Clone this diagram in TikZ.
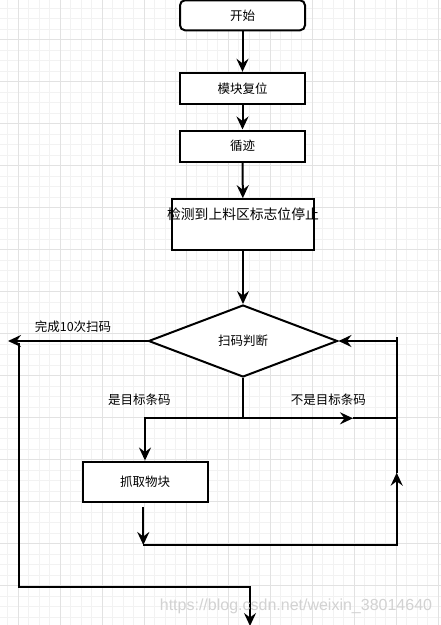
\documentclass[tikz,border=0pt]{standalone}
\usepackage{fontspec}
\newfontfamily\cjk{Noto Sans CJK SC}
\newfontfamily\wmfont{Liberation Sans}
\usetikzlibrary{shapes.geometric,arrows.meta}
\definecolor{gridminor}{HTML}{F2F2F2}
\definecolor{gridmajor}{HTML}{E2E2E2}
\definecolor{wmgray}{HTML}{D2D2D2}
\tikzset{
  boxstyle/.style={draw=black, line width=2pt, fill=white, minimum width=125pt, minimum height=31pt, inner sep=0pt, font=\cjk\fontsize{12.5}{14}\selectfont},
  lbl/.style={inner sep=0pt, font=\cjk\fontsize{12.5}{14}\selectfont},
  conn/.style={line width=2pt, draw=black},
  arr/.style={conn, -{Stealth[length=13pt, width=12pt, inset=4.5pt]}},
}
\begin{document}
\begin{tikzpicture}[x=1pt, y=-1pt]
\useasboundingbox (0,0) rectangle (441,625);
\fill[white] (0,0) rectangle (441,625);
% grid
\foreach \i in {0,...,41} {
  \pgfmathsetmacro\xx{7.8+10.5*\i}
  \draw[gridminor, line width=0.8pt] (\xx,0) -- (\xx,625);
}
\foreach \j in {0,...,59} {
  \pgfmathsetmacro\yy{8+10.5*\j}
  \draw[gridminor, line width=0.8pt] (0,\yy) -- (441,\yy);
}
\foreach \i in {0,...,10} {
  \pgfmathsetmacro\xx{18.3+42*\i}
  \draw[gridmajor, line width=0.8pt] (\xx,0) -- (\xx,625);
}
\foreach \j in {-1,...,14} {
  \pgfmathsetmacro\yy{39.5+42*\j}
  \draw[gridmajor, line width=0.8pt] (0,\yy) -- (441,\yy);
}

% nodes
\node[boxstyle, rounded corners=5pt, minimum height=30pt] (start) at (242.5,15.3) {开始};
\node[boxstyle] (reset) at (242.5,88.3) {模块复位};
\node[boxstyle] (track) at (242.5,146) {循迹};
\node[boxstyle, minimum width=142pt, minimum height=51pt] (detect) at (243,224.7) {};
\node[inner sep=0pt, font=\cjk\fontsize{13.8}{15}\selectfont] (detecttxt) at (243,214) {检测到上料区标志位停止};
\node[draw=black, line width=2pt, fill=white, shape=diamond, minimum width=189pt, minimum height=72pt, inner sep=0pt, font=\cjk\fontsize{12.5}{14}\selectfont] (judge) at (243,341) {扫码判断};
\node[boxstyle, minimum width=125pt, minimum height=40.5pt] (grab) at (145,481.8) {抓取物块};

% labels
\node[lbl] (ldone) at (73,326.7) {完成10次扫码};
\node[lbl] (lyes) at (139.3,400) {是目标条码};
\node[lbl] (lno) at (328.3,400) {不是目标条码};

% coordinates
\coordinate (Lend) at (8,341);
\coordinate (Ltop) at (19,342.5);
\coordinate (Lbot) at (19,586.7);
\coordinate (Bcor) at (250,586.7);
\coordinate (Bend) at (250,626);
\coordinate (J) at (243,418.3);
\coordinate (Jl) at (145,418.3);
\coordinate (Jm) at (353,418.3);
\coordinate (Jr) at (396.7,418.3);
\coordinate (Gtop) at (143.3,507.3);
\coordinate (Gbot) at (143.3,545);
\coordinate (Rbot) at (396.7,545);
\coordinate (Rmid) at (396.7,472.7);
\coordinate (Rtop) at (396.7,337);
\coordinate (Rarr) at (396.7,341);

% connectors
\draw[arr] (start) -- (reset);
\draw[arr] (reset) -- (track);
\draw[arr] (track) -- (detect);
\draw[arr] (detect.south) -- (judge.north);
\draw[arr] (judge.west) -- (Lend);
\draw[arr] (Ltop) -- (Lbot) -- (Bcor) -- (Bend);
\draw[conn] (judge.south) -- (J);
\draw[arr] (J) -- (Jl) -- (grab.north);
\draw[arr] (J) -- (Jm);
\draw[conn] (Jm) -- (Jr);
\draw[arr] (Gtop) -- (Gbot);
\draw[arr] (Gbot) -- (Rbot) -- (Rmid);
\draw[conn] (Rmid) -- (Rtop);
\draw[arr] (Rarr) -- (judge.east);

% watermark
\node[inner sep=0pt, text=wmgray, font=\wmfont\fontsize{16}{18}\selectfont] (wm) at (296,606.7) {https://blog.csdn.net/weixin\_38014640};
\end{tikzpicture}
\end{document}
